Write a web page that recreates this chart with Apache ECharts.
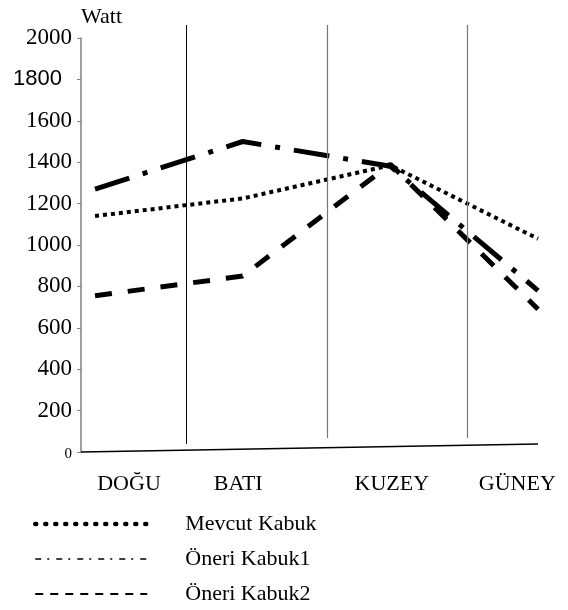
<!DOCTYPE html>
<html>
<head>
<meta charset="utf-8">
<script src="https://cdn.jsdelivr.net/npm/echarts@6/dist/echarts.min.js"></script>
<style>
html, body { margin: 0; background: #fff; }
#chart { width: 568px; height: 610px; }
</style>
</head>
<body>
<div id="chart"></div>
<script>
// categories and values
const categories = ['DOĞU', 'BATI', 'KUZEY', 'GÜNEY'];
const mevcut = [1140, 1225, 1385, 1030];
const kabuk1 = [1270, 1500, 1380, 780];
const kabuk2 = [755, 850, 1390, 690];
const seriesNames = ['Mevcut Kabuk', 'Öneri Kabuk1', 'Öneri Kabuk2'];
// where the category labels sit on the (value) x axis
const labelPos = [0.23, 0.97, 2.01, 2.86];
// separator lines, x in category units
const separators = [0.62, 1.57, 2.52];

const serif = '"Liberation Serif", "Times New Roman", serif';

function toPoints(arr) {
    return arr.map(function (v, i) { return [i, v]; });
}

const chart = echarts.init(document.getElementById('chart'));

// second grid is the same box but reaches 13px higher (separators go above 2000)
const topMax = 2000 * (452 - 25) / (452 - 38);

const option = {
    animation: false,
    textStyle: { fontFamily: serif, color: '#000' },
    grid: [
        { left: 81, right: 30, top: 38, bottom: 158 },
        { left: 81, right: 30, top: 25, bottom: 158 }
    ],
    xAxis: [
        {
            type: 'value',
            min: -0.095,
            max: 3,
            splitLine: { show: false },
            axisLine: { show: false },
            axisTick: { show: false },
            axisLabel: {
                customValues: labelPos,
                margin: 21,
                fontSize: 22,
                fontFamily: serif,
                color: '#000',
                formatter: function (val) {
                    const i = labelPos.indexOf(val);
                    return i >= 0 ? categories[i] : '';
                }
            }
        },
        { gridIndex: 1, type: 'value', min: -0.095, max: 3, show: false }
    ],
    yAxis: [
        {
            type: 'value',
            min: 0,
            max: 2000,
            interval: 200,
            name: 'Watt',
            nameLocation: 'end',
            nameGap: 10,
            nameTextStyle: { fontSize: 22, fontFamily: serif, color: '#000', align: 'left' },
            splitLine: { show: false },
            axisLine: { show: true, onZero: false, lineStyle: { color: '#808080', width: 1.5 } },
            axisTick: { show: true, length: 4, lineStyle: { color: '#808080' } },
            axisLabel: {
                margin: 9,
                formatter: function (val) {
                    if (val === 0) return '{z|0}';
                    if (val === 1800) return '{s|1800}';
                    return '{n|' + val + '}';
                },
                rich: {
                    n: { fontSize: 23, fontFamily: serif, color: '#000' },
                    z: { fontSize: 15, fontFamily: serif, color: '#000', padding: [4, 0, 0, 0] },
                    s: { fontSize: 22, fontFamily: '"Liberation Sans", Arial, sans-serif', color: '#000', padding: [0, 10, 0, 0] }
                }
            }
        },
        { gridIndex: 1, type: 'value', min: 0, max: topMax, show: false }
    ],
    legend: {
        orient: 'vertical',
        left: 28,
        top: 508,
        height: 100,
        itemWidth: 112,
        itemHeight: 22,
        itemGap: 13,
        itemStyle: { opacity: 0 },
        textStyle: { fontSize: 22, lineHeight: 22, fontFamily: serif, color: '#000', padding: [0, 0, 0, 33] },
        data: [
            { name: seriesNames[0], lineStyle: { width: 4.5, type: [1, 9], cap: 'round', color: '#000' } },
            { name: seriesNames[1], lineStyle: { width: 1.5, type: [6, 6, 2, 7], color: '#000' } },
            { name: seriesNames[2], lineStyle: { width: 2, type: [8, 7], color: '#000' } }
        ]
    },
    series: [
        {
            name: seriesNames[0],
            type: 'line',
            symbol: 'none',
            clip: false,
            data: toPoints(mevcut),
            lineStyle: { color: '#000', width: 4, type: [4, 4] }
        },
        {
            name: seriesNames[1],
            type: 'line',
            symbol: 'none',
            clip: false,
            data: toPoints(kabuk1),
            lineStyle: { color: '#000', width: 5, type: [36, 14, 5, 14] }
        },
        {
            name: seriesNames[2],
            type: 'line',
            symbol: 'none',
            clip: false,
            data: toPoints(kabuk2),
            lineStyle: { color: '#000', width: 5, type: [17, 16] }
        },
        {
            // frame: slanted base line and the vertical separators
            name: 'frame',
            type: 'line',
            xAxisIndex: 1,
            yAxisIndex: 1,
            data: [],
            clip: false,
            markLine: {
                silent: true,
                symbol: ['none', 'none'],
                label: { show: false },
                data: [
                    [{ coord: [-0.095, 0], lineStyle: { color: '#000', width: 1.5, type: 'solid' } }, { coord: [3, 39] }],
                    [{ coord: [separators[0], 39], lineStyle: { color: '#000', width: 1, type: 'solid' } }, { coord: [separators[0], topMax] }],
                    [{ coord: [separators[1], 68], lineStyle: { color: '#777', width: 1.2, type: 'solid' } }, { coord: [separators[1], topMax] }],
                    [{ coord: [separators[2], 68], lineStyle: { color: '#777', width: 1.2, type: 'solid' } }, { coord: [separators[2], topMax] }]
                ]
            }
        }
    ]
};

chart.setOption(option);
</script>
</body>
</html>
